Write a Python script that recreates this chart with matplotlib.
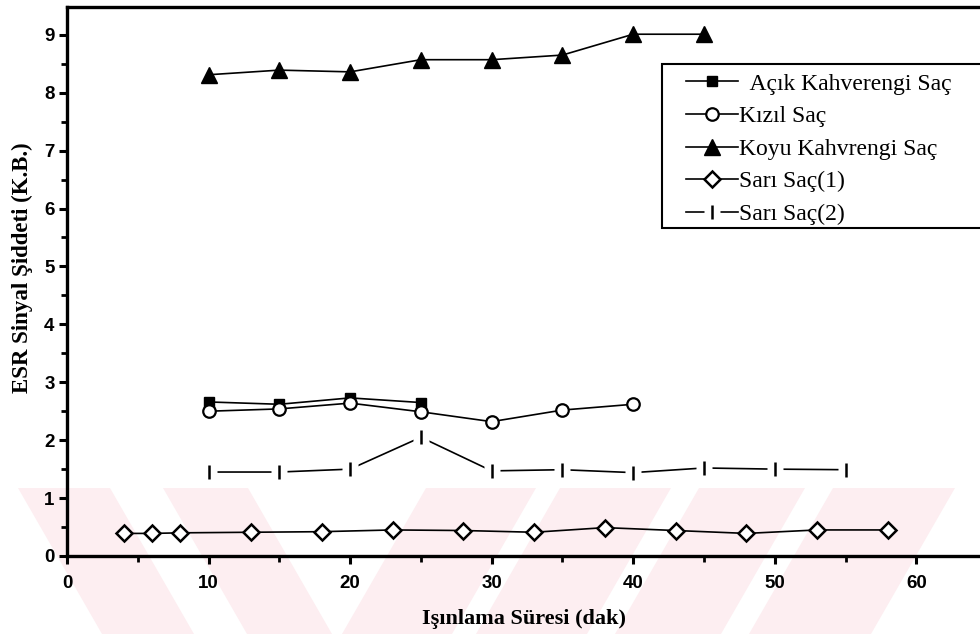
import matplotlib
matplotlib.use("Agg")
import matplotlib.pyplot as plt
from matplotlib.patches import Polygon, Rectangle
from matplotlib.legend_handler import HandlerTuple
from matplotlib.ticker import MultipleLocator

# ---- data ----
x_acik = [10, 15, 20, 25]
y_acik = [2.66, 2.62, 2.73, 2.65]

x_kizil = [10, 15, 20, 25, 30, 35, 40]
y_kizil = [2.50, 2.54, 2.64, 2.49, 2.32, 2.52, 2.62]

x_koyu = [10, 15, 20, 25, 30, 35, 40, 45]
y_koyu = [8.31, 8.39, 8.36, 8.57, 8.57, 8.65, 9.01, 9.01]

x_sari1 = [4, 6, 8, 13, 18, 23, 28, 33, 38, 43, 48, 53, 58]
y_sari1 = [0.39, 0.39, 0.40, 0.41, 0.42, 0.45, 0.44, 0.41, 0.49, 0.44, 0.39, 0.45, 0.45]

x_sari2 = [10, 15, 20, 25, 30, 35, 40, 45, 50, 55]
y_sari2 = [1.45, 1.45, 1.50, 2.05, 1.47, 1.49, 1.44, 1.52, 1.50, 1.49]

labels = ["  Açık Kahverengi Saç", "Kızıl Saç", "Koyu Kahvrengi Saç", "Sarı Saç(1)", "Sarı Saç(2)"]
x_ticks = [0, 10, 20, 30, 40, 50, 60]
y_ticks = [0, 1, 2, 3, 4, 5, 6, 7, 8, 9]

W, H = 980, 634
fig = plt.figure(figsize=(W / 100, H / 100), dpi=100)

def fpx(px, py):
    return (px / W, 1 - py / H)

# faint watermark stripes (figure pixel coords)
wm = '#fdeef1'
def stripe(x_top0, x_top1, dx):
    pts = [(x_top0, 488), (x_top1, 488), (x_top1 + dx, 634), (x_top0 + dx, 634)]
    return [fpx(px, py) for px, py in pts]
for a, b in [(18, 110), (163, 248)]:
    fig.patches.append(Polygon(stripe(a, b, 84), closed=True, transform=fig.transFigure,
                               facecolor=wm, edgecolor='none', zorder=-5))
for a, b in [(426, 536), (560, 671), (699, 805), (833, 955)]:
    fig.patches.append(Polygon(stripe(a, b, -84), closed=True, transform=fig.transFigure,
                               facecolor=wm, edgecolor='none', zorder=-5))

ax = fig.add_axes([67 / W, (H - 556) / H, (W - 67) / W, 549 / H])
ax.patch.set_alpha(0)
ax.set_zorder(1)

lw = 1.2
l1, = ax.plot(x_acik, y_acik, '-', color='black', lw=lw, marker='s', ms=7,
              mfc='black', mec='black', zorder=3)
l2, = ax.plot(x_kizil, y_kizil, '-', color='black', lw=lw, marker='o', ms=9,
              mfc='white', mec='black', mew=1.6, zorder=4)
l3, = ax.plot(x_koyu, y_koyu, '-', color='black', lw=lw, marker='^', ms=11,
              mfc='black', mec='black', zorder=3)
l4, = ax.plot(x_sari1, y_sari1, '-', color='black', lw=lw, marker='D', ms=8.5,
              mfc='white', mec='black', mew=1.8, zorder=3)
l5a, = ax.plot(x_sari2, y_sari2, '-', color='black', lw=lw, zorder=3)
l5b, = ax.plot(x_sari2, y_sari2, 's', ls='none', ms=12, mfc='white', mec='none', zorder=4)
l5c, = ax.plot(x_sari2, y_sari2, '|', ls='none', ms=10, mec='black', mew=1.8, zorder=5)

ax.set_xlim(0, 64.5)
ax.set_ylim(0, 9.48)
ax.set_xticks(x_ticks)
ax.set_yticks(y_ticks)
ax.xaxis.set_minor_locator(MultipleLocator(5))
ax.yaxis.set_minor_locator(MultipleLocator(0.5))
ax.tick_params(which='major', direction='out', length=6, width=2.2, color='black')
ax.tick_params(which='minor', direction='out', length=4, width=2.0, color='black')
ax.tick_params(axis='x', which='major', pad=8)
ax.tick_params(axis='y', which='major', pad=3)
for lab in ax.get_xticklabels() + ax.get_yticklabels():
    lab.set_fontfamily('Liberation Sans')
    lab.set_fontweight('bold')
    lab.set_fontsize(13.5)

for s in ['left', 'bottom', 'top']:
    ax.spines[s].set_linewidth(2.4)
ax.spines['right'].set_visible(False)

ax.set_ylabel("ESR Sinyal Şiddeti (K.B.)", fontfamily='Liberation Serif', fontsize=16.5,
              fontweight='bold')
ax.yaxis.set_label_coords((33 - 67) / 913, (556 - 268) / 549)
ax.set_xlabel("Işınlama Süresi (dak)", fontfamily='Liberation Serif', fontsize=16,
              fontweight='bold', labelpad=12)

# legend frame (extends past the right edge, as in the original)
fig.patches.append(Rectangle(fpx(662, 228), (1000 - 662) / W, (228 - 64) / H,
                             transform=fig.transFigure, facecolor='white',
                             edgecolor='black', lw=1.5, zorder=5))

leg = fig.legend([l1, l2, l3, l4, (l5a, l5b, l5c)], labels,
                 handler_map={tuple: HandlerTuple(ndivide=1, pad=0)},
                 loc='upper left', bbox_to_anchor=fpx(686, 73),
                 bbox_transform=fig.transFigure, numpoints=1,
                 prop={'family': 'Liberation Serif', 'size': 17},
                 frameon=False,
                 handlelength=2.2, handletextpad=0.05, labelspacing=0.47,
                 borderpad=0, borderaxespad=0)
leg.set_zorder(10)

fig.savefig("out.png", dpi=100)
